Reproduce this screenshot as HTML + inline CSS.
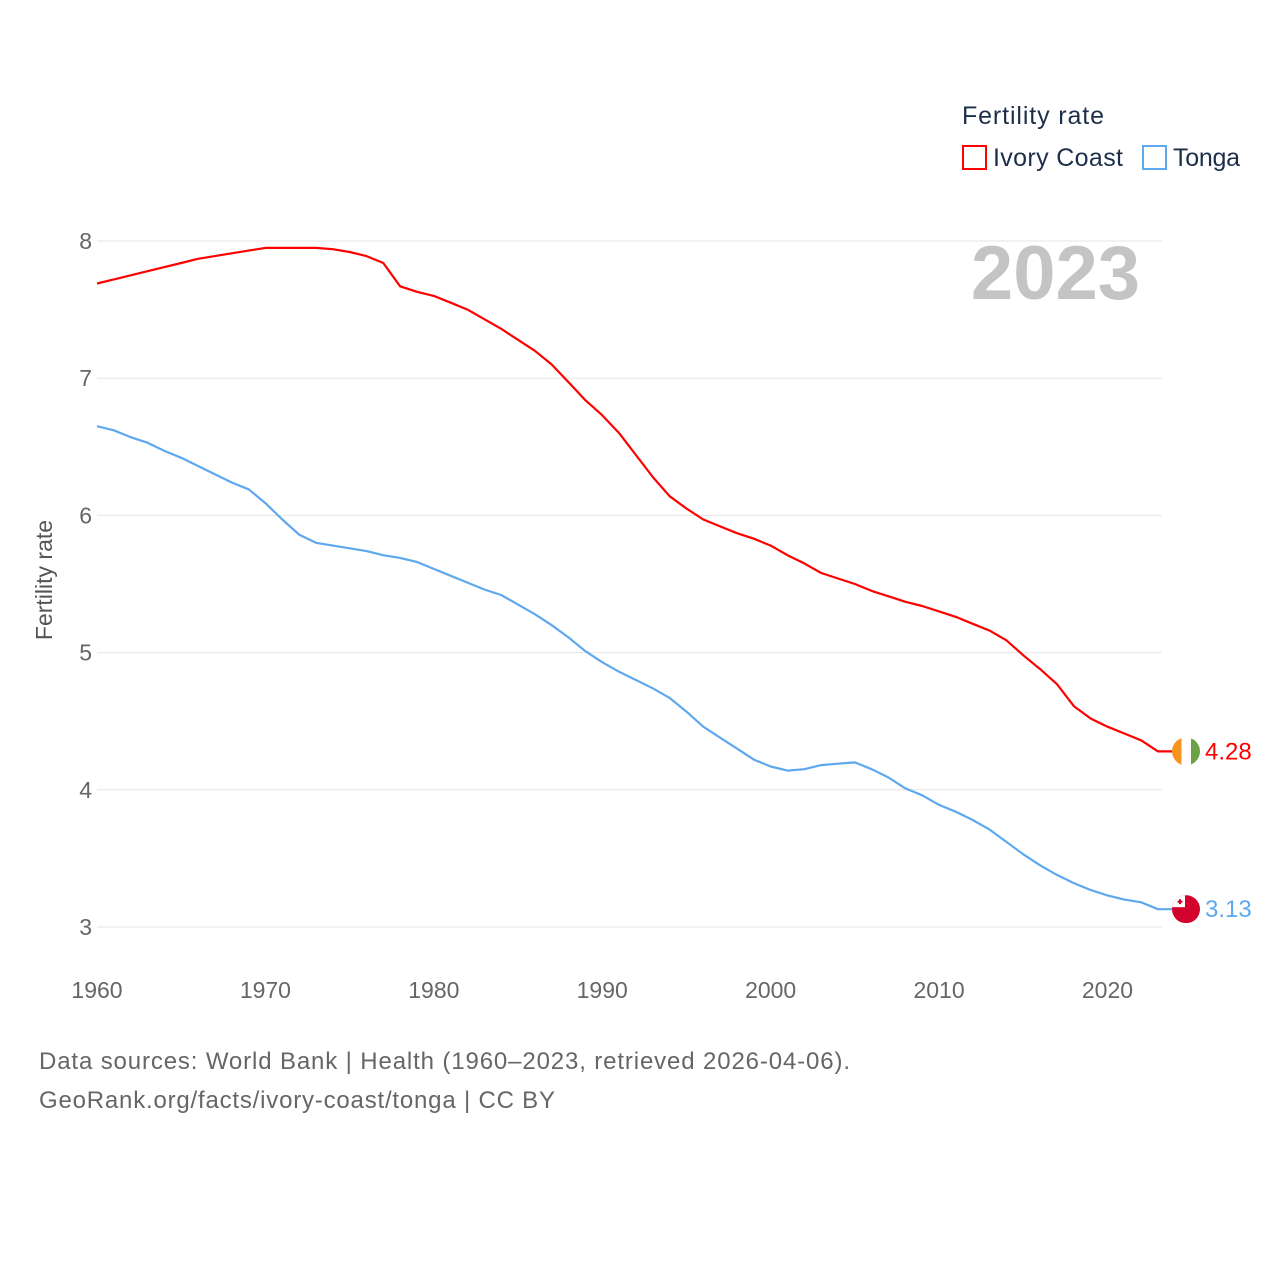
<!DOCTYPE html>
<html><head><meta charset="utf-8"><style>
body{margin:0;background:#fff;font-family:"Liberation Sans",sans-serif;}
svg text{font-family:"Liberation Sans",sans-serif;}
</style></head><body>
<svg id="chart" width="1280" height="1280" xmlns="http://www.w3.org/2000/svg">
<rect width="1280" height="1280" fill="#fff"/>
<g id="grid"></g>
<g id="yticks"></g>
<g id="xticks"></g>
<text x="52" y="580" transform="rotate(-90 52 580)" text-anchor="middle" font-size="23" fill="#555">Fertility rate</text>
<text x="1140" y="299" text-anchor="end" font-size="76" font-weight="bold" fill="#c4c4c4">2023</text>
<text x="962" y="124" font-size="25" fill="#1c2e4a" textLength="142">Fertility rate</text>
<g>
<rect x="963" y="146" width="23" height="23" fill="none" stroke="#f00" stroke-width="2"/>
<text x="993" y="166" font-size="25" fill="#1c2e4a" textLength="130">Ivory Coast</text></g>
<g>
<rect x="1143" y="146" width="23" height="23" fill="none" stroke="#5ea8ef" stroke-width="2"/>
<text x="1173" y="166" font-size="25" fill="#1c2e4a" textLength="67">Tonga</text></g>
<g id="series"></g>
<text x="39" y="1069" font-size="24" fill="#666" textLength="811">Data sources: World Bank | Health (1960–2023, retrieved 2026-04-06).</text>
<text x="39" y="1108" font-size="24" fill="#666" textLength="516">GeoRank.org/facts/ivory-coast/tonga | CC BY</text>
</svg>
<script>
const years=[];for(let y=1960;y<=2023;y++)years.push(y);
const ivoryCoast=[7.69,7.72,7.75,7.78,7.81,7.84,7.87,7.89,7.91,7.93,7.95,7.95,7.95,7.95,7.94,7.92,7.89,7.84,7.67,7.63,7.60,7.55,7.50,7.43,7.36,7.28,7.20,7.10,6.97,6.84,6.73,6.60,6.44,6.28,6.14,6.05,5.97,5.92,5.87,5.83,5.78,5.71,5.65,5.58,5.54,5.50,5.45,5.41,5.37,5.34,5.30,5.26,5.21,5.16,5.09,4.98,4.88,4.77,4.61,4.52,4.46,4.41,4.36,4.28];
const tonga=[6.65,6.62,6.57,6.53,6.47,6.42,6.36,6.30,6.24,6.19,6.09,5.97,5.86,5.80,5.78,5.76,5.74,5.71,5.69,5.66,5.61,5.56,5.51,5.46,5.42,5.35,5.28,5.20,5.11,5.01,4.93,4.86,4.80,4.74,4.67,4.57,4.46,4.38,4.30,4.22,4.17,4.14,4.15,4.18,4.19,4.20,4.15,4.09,4.01,3.96,3.89,3.84,3.78,3.71,3.62,3.53,3.45,3.38,3.32,3.27,3.23,3.20,3.18,3.13];
const yTicks=[3,4,5,6,7,8];
const xTicks=[1960,1970,1980,1990,2000,2010,2020];
const NS="http://www.w3.org/2000/svg";
const xs=y=>97+(y-1960)*(1158-97)/63;
const ys=v=>927-(v-3)*(927-241)/5;
function mk(t,a,p){const e=document.createElementNS(NS,t);for(const k in a)e.setAttribute(k,a[k]);p.appendChild(e);return e;}
const grid=document.getElementById('grid'),yt=document.getElementById('yticks'),xt=document.getElementById('xticks'),ser=document.getElementById('series');
yTicks.forEach(v=>{
 const l=mk('line',{x1:97,x2:1162,y1:ys(v),y2:ys(v),stroke:'#e6e6e6','stroke-width':1},grid);
 
 
 const t=mk('text',{x:92,y:ys(v)+8,'text-anchor':'end','font-size':23,fill:'#666'},yt);t.textContent=v;
 
 
});
xTicks.forEach(v=>{
 const t=mk('text',{x:xs(v),y:998,'text-anchor':'middle','font-size':23,fill:'#666'},xt);t.textContent=v;
 
 
});
const lx=1163;
function line(vals,color,name){
 let d=vals.map((v,i)=>(i?'L':'M')+xs(years[i]).toFixed(1)+' '+ys(v).toFixed(1)).join(' ');
 d+=' L'+(lx+9)+' '+ys(vals[vals.length-1]).toFixed(1);
 const p=mk('path',{d:d,fill:'none',stroke:color,'stroke-width':2.2,'stroke-linejoin':'round'},ser);
 
 
}
line(ivoryCoast,'#f00','line-ivory-coast');
line(tonga,'#5ea8ef','line-tonga');
const icv=ivoryCoast[ivoryCoast.length-1],icy=ys(icv);
const g1=mk('g',{},ser);


mk('clipPath',{id:'c1'},g1);mk('circle',{cx:lx+23,cy:icy,r:14},g1.lastChild);
const f1=mk('g',{'clip-path':'url(#c1)'},g1);
mk('rect',{x:lx+9,y:icy-14,width:10,height:28,fill:'#f7941d'},f1);
mk('rect',{x:lx+18.5,y:icy-14,width:9.5,height:28,fill:'#fff'},f1);
mk('rect',{x:lx+28,y:icy-14,width:10,height:28,fill:'#6ba244'},f1);
const t1=mk('text',{x:lx+42,y:icy+8,'font-size':24,fill:'#f00'},ser);t1.textContent=icv.toFixed(2);


const tv=tonga[tonga.length-1],ty=ys(tv);
const g2=mk('g',{},ser);


mk('clipPath',{id:'c2'},g2);mk('circle',{cx:lx+23,cy:ty,r:14},g2.lastChild);
const f2=mk('g',{'clip-path':'url(#c2)'},g2);
mk('rect',{x:lx+9,y:ty-14,width:28,height:28,fill:'#d2042d'},f2);
mk('rect',{x:lx+9,y:ty-14,width:13,height:12,fill:'#fff'},f2);
mk('rect',{x:lx+16,y:ty-10,width:2,height:5,fill:'#d2042d'},f2);
mk('rect',{x:lx+14.5,y:ty-8.5,width:5,height:2,fill:'#d2042d'},f2);
const t2=mk('text',{x:lx+42,y:ty+8,'font-size':24,fill:'#5ea8ef'},ser);t2.textContent=tv.toFixed(2);


</script>
</body></html>
